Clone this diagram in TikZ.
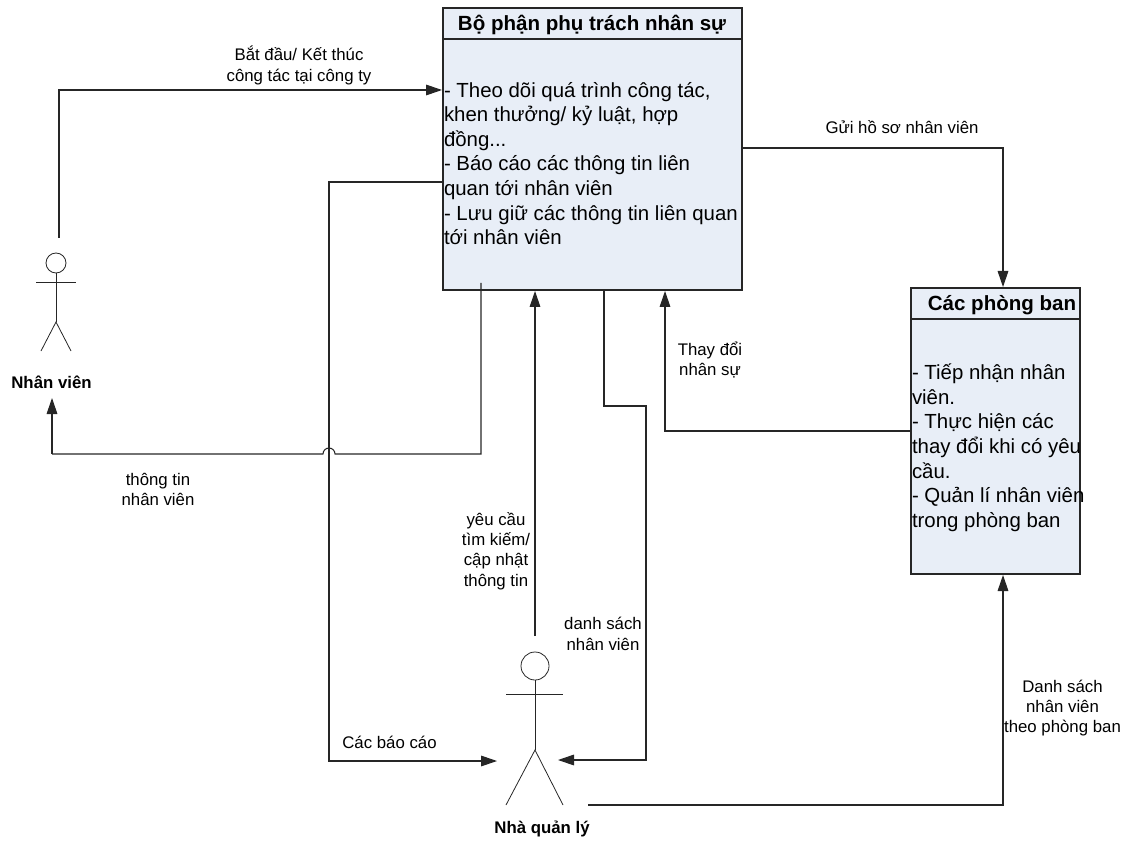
\documentclass[tikz,border=0pt]{standalone}
\usepackage{fontspec}
\setmainfont{Liberation Sans}
\usetikzlibrary{arrows.meta}
\tikzset{
  every node/.style={inner sep=0pt,outer sep=0pt},
  box/.style={draw=black!85,line width=1pt,fill=boxfill,anchor=north west},
  conn/.style={draw=black!85,line width=0.8pt,-{Triangle[length=12pt,width=8pt]}},
  plain/.style={draw=black!85,line width=0.8pt},
  divider/.style={draw=black!85,line width=1pt},
  fig/.style={draw=black!85,line width=0.6pt},
  lab/.style={font=\fontsize{12.6pt}{15.3pt}\selectfont,align=center},
  actorname/.style={font=\fontsize{12.6pt}{14pt}\selectfont\bfseries,align=center},
  head/.style={font=\fontsize{15.4pt}{18pt}\selectfont\bfseries,align=center},
  body/.style={font=\fontsize{15.3pt}{18.45pt}\selectfont,align=left,anchor=north west}
}
\definecolor{boxfill}{HTML}{E8EEF7}
\begin{document}
\begin{tikzpicture}[x=0.75pt,y=-0.75pt]
\useasboundingbox (0,0) rectangle (1130,841);
% boxes
\node[box,minimum width=224.25pt,minimum height=211.5pt] (hr) at (443,8) {};
\node[box,minimum width=126.75pt,minimum height=214.5pt] (dept) at (911,288) {};
\draw[divider] (443,39) -- (742,39);
\draw[divider] (911,319) -- (1080,319);
\node[head] (hrtitle) at (592,25) {Bộ phận phụ trách nhân sự};
\node[head] (depttitle) at (1002,305) {Các phòng ban};
\node[body] (hrtext) at (444,82) {- Theo dõi quá trình công tác,\\khen thưởng/ kỷ luật, hợp\\đồng...\\- Báo cáo các thông tin liên\\quan tới nhân viên\\- Lưu giữ các thông tin liên quan\\tới nhân viên};
\node[body] (depttext) at (912,364) {- Tiếp nhận nhân\\viên.\\- Thực hiện các\\thay đổi khi có yêu\\cầu.\\- Quản lí nhân viên\\trong phòng ban};
% actors
\draw[fig] (56,263) circle (10);
\draw[fig] (56,273) -- (56,322);
\draw[fig] (36,282) -- (76,282);
\draw[fig] (41,351) -- (56,322) -- (71,351);
\draw[fig] (535,666) circle (14);
\draw[fig] (535,680) -- (535,750);
\draw[fig] (506,694) -- (563,694);
\draw[fig] (506,805) -- (535,750) -- (563,805);
\node[actorname] (nv) at (51.5,382) {Nhân viên};
\node[actorname] (ql) at (542,829) {Nhà quản lý};
% free ends
\coordinate (a1) at (59,238);
\coordinate (a2) at (52,398);
\coordinate (m1) at (497,761);
\coordinate (m2) at (558,760);
\coordinate (m3) at (535,636);
\coordinate (m4) at (588,805);
% connectors
\draw[conn] (a1) |- (442,90);
\draw[conn] (443,182) -- (329,182) -- (329,761) -- (m1);
\draw[plain] (481,283) -- (481,454) -- (335,454) arc (0:-180:6) -- (52,454);
\draw[conn] (52,454) -- (a2);
\draw[conn] (m3) -- (535,291);
\draw[conn] (604,290) -- (604,406) -- (646,406) -- (646,760) -- (m2);
\draw[conn] (911,431) -- (665,431) -- (665,291);
\draw[conn] (742,148) -- (1003,148) -- (1003,287);
\draw[conn] (m4) -- (1003,805) -- (1003,575);
% labels
\node[lab] (l1) at (299,65.5) {Bắt đầu/ Kết thúc\\công tác tại công ty};
\node[lab] (l2) at (902,127) {Gửi hồ sơ nhân viên};
\node[lab] (l3) at (710,360) {Thay đổi\\nhân sự};
\node[lab] (l4) at (158,489.5) {thông tin\\nhân viên};
\node[lab] (l5) at (496,551) {yêu cầu\\tìm kiếm/\\cập nhật\\thông tin};
\node[lab] (l6) at (603,634) {danh sách\\nhân viên};
\node[lab] (l7) at (389.5,742) {Các báo cáo};
\node[lab] (l8) at (1062.5,708) {Danh sách\\nhân viên\\theo phòng ban};
\end{tikzpicture}
\end{document}
